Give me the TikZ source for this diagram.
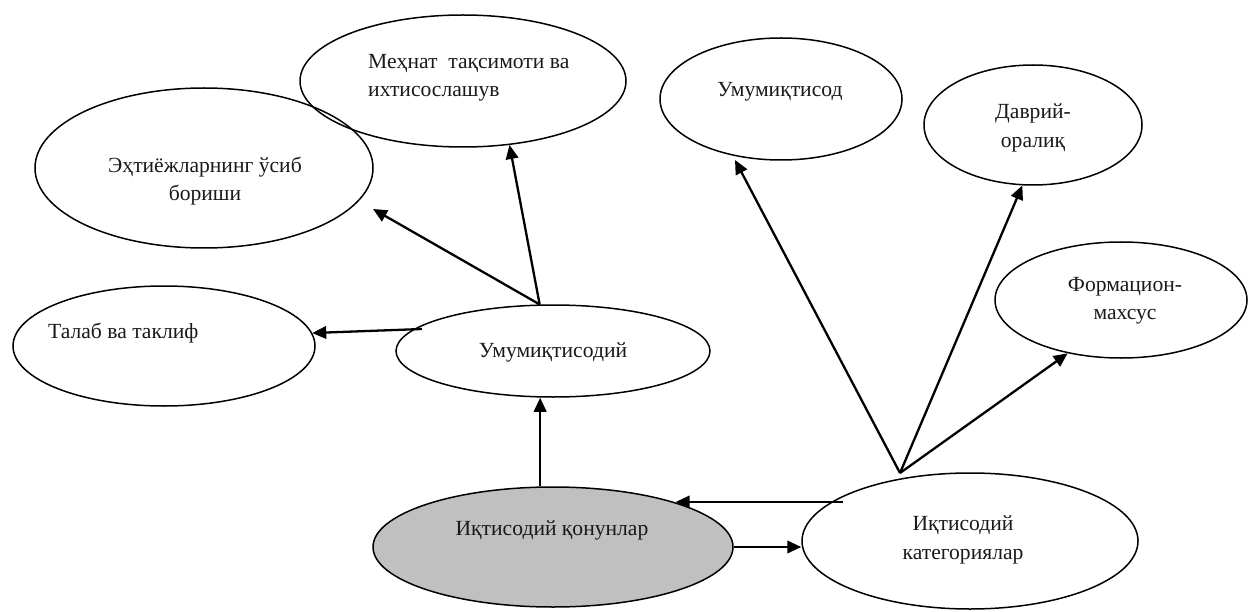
\documentclass[tikz,border=0pt]{standalone}
\usepackage{fontspec}
\setmainfont{Liberation Serif}
\usetikzlibrary{shapes.geometric,arrows.meta}
\definecolor{qgray}{RGB}{192,192,192}
\begin{document}
\begin{tikzpicture}[x=1pt,y=-1pt,
  ell/.style={draw, ellipse, line width=1.5pt, inner sep=0pt},
  lbl/.style={font=\fontsize{21.6}{28.5}\selectfont, inner sep=0pt, align=center, text=black!90},
  arr/.style={line width=2.3pt, -{Triangle[length=14pt,width=12.5pt]}}]
\useasboundingbox (0,0) rectangle (1249,612);
% ellipses
\node[ell, minimum width=326pt, minimum height=132pt] (meh) at (463,81) {};
\node[ell, minimum width=338pt, minimum height=160pt] (eht) at (204,168) {};
\node[ell, minimum width=302pt, minimum height=120pt] (tal) at (164,346) {};
\node[ell, minimum width=314pt, minimum height=92pt] (umd) at (553,351) {};
\node[ell, fill=qgray, minimum width=360pt, minimum height=120pt] (qon) at (553,547) {};
\node[ell, minimum width=336pt, minimum height=136pt] (kat) at (970,541) {};
\node[ell, minimum width=242pt, minimum height=122pt] (umq) at (781,99) {};
\node[ell, minimum width=218pt, minimum height=120pt] (dav) at (1033,125) {};
\node[ell, minimum width=252pt, minimum height=116pt] (frm) at (1121,300) {};
% texts
\node[lbl, anchor=west, align=left] (tmeh) at (368,78) {Меҳнат\ \ тақсимоти ва\\ихтисослашув};
\node[lbl] (teht) at (205,181) {Эҳтиёжларнинг ўсиб\\бориши};
\node[lbl, anchor=west] (ttal) at (48,333) {Талаб ва таклиф};
\node[lbl] (tumd) at (553,352) {Умумиқтисодий};
\node[lbl] (tqon) at (552,530) {Иқтисодий қонунлар};
\node[lbl] (tkat) at (963,540) {Иқтисодий\\категориялар};
\node[lbl] (tumq) at (780,92) {Умумиқтисод};
\node[lbl] (tdav) at (1033,128) {Даврий-\\оралиқ};
\node[lbl] (tfrm) at (1125,301) {Формацион-\\махсус};
% connectors
\coordinate (ehtTip) at (373,209);
\coordinate (talFrom) at (422,329);
\coordinate (katFrom) at (843,502);
\coordinate (hB) at (900,473);
\coordinate (umqTip) at (735,160);
\draw[arr] (umd.106) -- (meh.-54);
\draw[arr] (umd.106) -- (ehtTip);
\draw[arr] (talFrom) -- (tal.5);
\draw[arr] (qon.102) -- (qon.102 |- umd.south);
\draw[arr] (katFrom) -- (qon.20 |- katFrom);
\draw[arr] (qon.east) -- (qon.east -| kat.west);
\draw[arr] (hB) -- (umqTip);
\draw[arr] (hB) -- (dav.-100);
\draw[arr] (hB) -- (frm.-135.5);
\end{tikzpicture}
\end{document}
